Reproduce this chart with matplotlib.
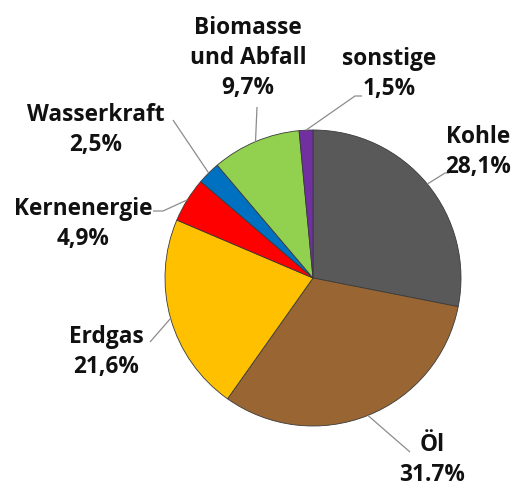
import matplotlib
matplotlib.use("Agg")
import matplotlib.pyplot as plt
import numpy as np

labels = ["Kohle", "Öl", "Erdgas", "Kernenergie", "Wasserkraft", "Biomasse\nund Abfall", "sonstige"]
values = [28.1, 31.7, 21.6, 4.9, 2.5, 9.7, 1.5]
pct_text = ["28,1%", "31.7%", "21,6%", "4,9%", "2,5%", "9,7%", "1,5%"]
colors = ["#595959", "#996633", "#FFC000", "#FF0000", "#0070C0", "#92D050", "#7030A0"]

W, H = 521, 487
CX, CY, R = 313, 278, 148

fig = plt.figure(figsize=(W / 100, H / 100), dpi=100)
ax = fig.add_axes([0, 0, 1, 1])

wedges, _ = ax.pie(values, colors=colors, startangle=90, counterclock=False,
                   radius=1.0, wedgeprops=dict(edgecolor="#3a3a3a", linewidth=0.6))
ax.set_xlim(-CX / R, (W - CX) / R)
ax.set_ylim(-(H - CY) / R, CY / R)
ax.set_aspect("auto")
ax.axis("off")


def px(x, y):
    return ((x - CX) / R, (CY - y) / R)


# label layout: text centre (pixels), elbow point and line end (pixels)
layout = {
    "Kohle": dict(text=(478, 152), line=[(445, 173), (449, 173)]),
    "Öl": dict(text=(432, 460), line=[(410, 452)]),
    "Erdgas": dict(text=(106, 352), line=[(150, 342)]),
    "Kernenergie": dict(text=(83, 224), line=[(163, 211), (153, 211)]),
    "Wasserkraft": dict(text=(96, 130), line=[(173, 120)]),
    "Biomasse\nund Abfall": dict(text=(248, 58), line=[(257, 107)]),
    "sonstige": dict(text=(389, 74), line=[(355, 96), (362, 96)]),
}

for w, lab, pt in zip(wedges, labels, pct_text):
    mid = np.deg2rad((w.theta1 + w.theta2) / 2)
    ex, ey = np.cos(mid), np.sin(mid)
    lay = layout[lab]
    pts = [(ex, ey)] + [px(*p) for p in lay["line"]]
    xs, ys = zip(*pts)
    ax.plot(xs, ys, color="#8c8c8c", lw=0.9, solid_capstyle="butt")
    tx, ty = px(*lay["text"])
    ax.text(tx, ty, lab + "\n" + pt, ha="center", va="center",
            fontsize=16.3, fontweight="bold", family="Open Sans",
            linespacing=1.32, color="#111111")

fig.savefig("out.png", dpi=100)
